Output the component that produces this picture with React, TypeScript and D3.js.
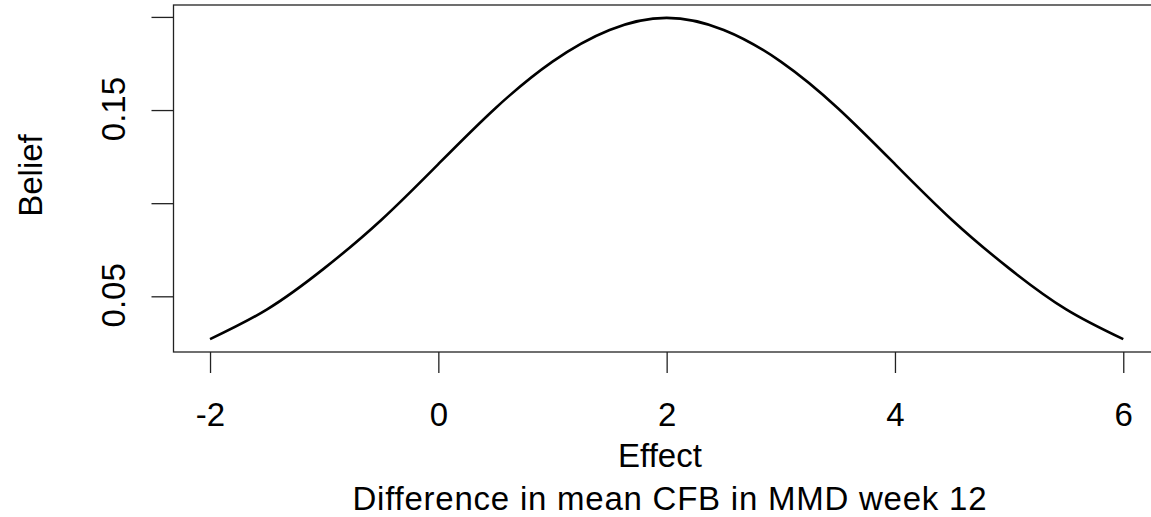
import React, { useEffect, useRef } from 'react';
import * as d3 from 'd3';

// Effect values (x) and belief density (y)
const effect = [-2, -1.5, -1, -0.5, 0, 0.5, 1, 1.5, 2, 2.5, 3, 3.5, 4, 4.5, 5, 5.5, 6];
const belief = [0.027, 0.043, 0.065, 0.091, 0.121, 0.151, 0.176, 0.193, 0.1995, 0.193, 0.176, 0.151, 0.121, 0.091, 0.065, 0.043, 0.027];

const xTicks = [-2, 0, 2, 4, 6];
const yTicks = [0.05, 0.1, 0.15, 0.2];
const yTickLabels = ['0.05', '', '0.15', ''];

const xLabel = 'Effect';
const xSubLabel = 'Difference in mean CFB in MMD week 12';
const yLabel = 'Belief';

const App = () => {
    const svgRef = useRef<SVGSVGElement>(null);

    useEffect(() => {
        const width = 1151;
        const height = 517;
        const plot = { left: 173.5, right: 1159.8, top: 5, bottom: 352 };
        const font = 'Liberation Sans, Arial, sans-serif';

        const svg = d3.select(svgRef.current);
        svg.selectAll('*').remove();
        svg.attr('width', width).attr('height', height);

        // R-style 4% padding on both axes
        const xExt = d3.extent(effect) as [number, number];
        const yExt = d3.extent(belief) as [number, number];
        const xPad = (xExt[1] - xExt[0]) * 0.04;
        const yPad = (yExt[1] - yExt[0]) * 0.04;

        const x = d3.scaleLinear()
            .domain([xExt[0] - xPad, xExt[1] + xPad])
            .range([plot.left, plot.right]);
        const y = d3.scaleLinear()
            .domain([yExt[0] - yPad, yExt[1] + yPad])
            .range([plot.bottom, plot.top]);

        svg.append('rect')
            .attr('width', width).attr('height', height).attr('fill', 'white');

        // curve
        const line = d3.line<number>()
            .x((_, i) => x(effect[i]))
            .y(d => y(d))
            .curve(d3.curveNatural);

        svg.append('path')
            .datum(belief)
            .attr('fill', 'none')
            .attr('stroke', 'black')
            .attr('stroke-width', 2.6)
            .attr('d', line);

        // box
        svg.append('rect')
            .attr('x', plot.left)
            .attr('y', plot.top)
            .attr('width', plot.right - plot.left)
            .attr('height', plot.bottom - plot.top)
            .attr('fill', 'none')
            .attr('stroke', '#222')
            .attr('stroke-width', 1.3);

        // x axis
        const xAxis = svg.append('g')
            .attr('transform', `translate(0,${plot.bottom})`)
            .call(d3.axisBottom(x).tickValues(xTicks).tickSize(21).tickSizeOuter(0).tickPadding(0)
                .tickFormat(d => String(d)));
        xAxis.select('.domain').remove();
        xAxis.selectAll('line').attr('stroke', '#222').attr('stroke-width', 1.3);
        xAxis.selectAll('text')
            .attr('y', 74)
            .attr('dy', 0)
            .attr('fill', 'black')
            .style('font-family', font)
            .style('font-size', '33px');

        // y axis
        const yAxis = svg.append('g')
            .attr('transform', `translate(${plot.left},0)`)
            .call(d3.axisLeft(y).tickValues(yTicks).tickSize(22).tickSizeOuter(0)
                .tickFormat((_, i) => yTickLabels[i]));
        yAxis.select('.domain').remove();
        yAxis.selectAll('line').attr('stroke', '#222').attr('stroke-width', 1.3);
        yAxis.selectAll('text')
            .attr('x', null)
            .attr('dy', null)
            .attr('transform', 'translate(-49,-1.5) rotate(-90)')
            .attr('text-anchor', 'middle')
            .attr('fill', 'black')
            .style('font-family', font)
            .style('font-size', '33px');

        // axis titles
        svg.append('text')
            .attr('x', 660)
            .attr('y', 467)
            .attr('text-anchor', 'middle')
            .style('font-family', font)
            .style('font-size', '33px')
            .text(xLabel);

        svg.append('text')
            .attr('x', 669.5)
            .attr('y', 510)
            .attr('text-anchor', 'middle')
            .attr('textLength', 634)
            .attr('lengthAdjust', 'spacing')
            .style('font-family', font)
            .style('font-size', '33px')
            .text(xSubLabel);

        svg.append('text')
            .attr('transform', `translate(41.5,175.5) rotate(-90)`)
            .attr('text-anchor', 'middle')
            .style('font-family', font)
            .style('font-size', '33px')
            .text(yLabel);
    }, []);

    return (
        <svg ref={svgRef} style={{ position: 'absolute', left: 0, top: 0, display: 'block' }}></svg>
    );
};

export default App;
